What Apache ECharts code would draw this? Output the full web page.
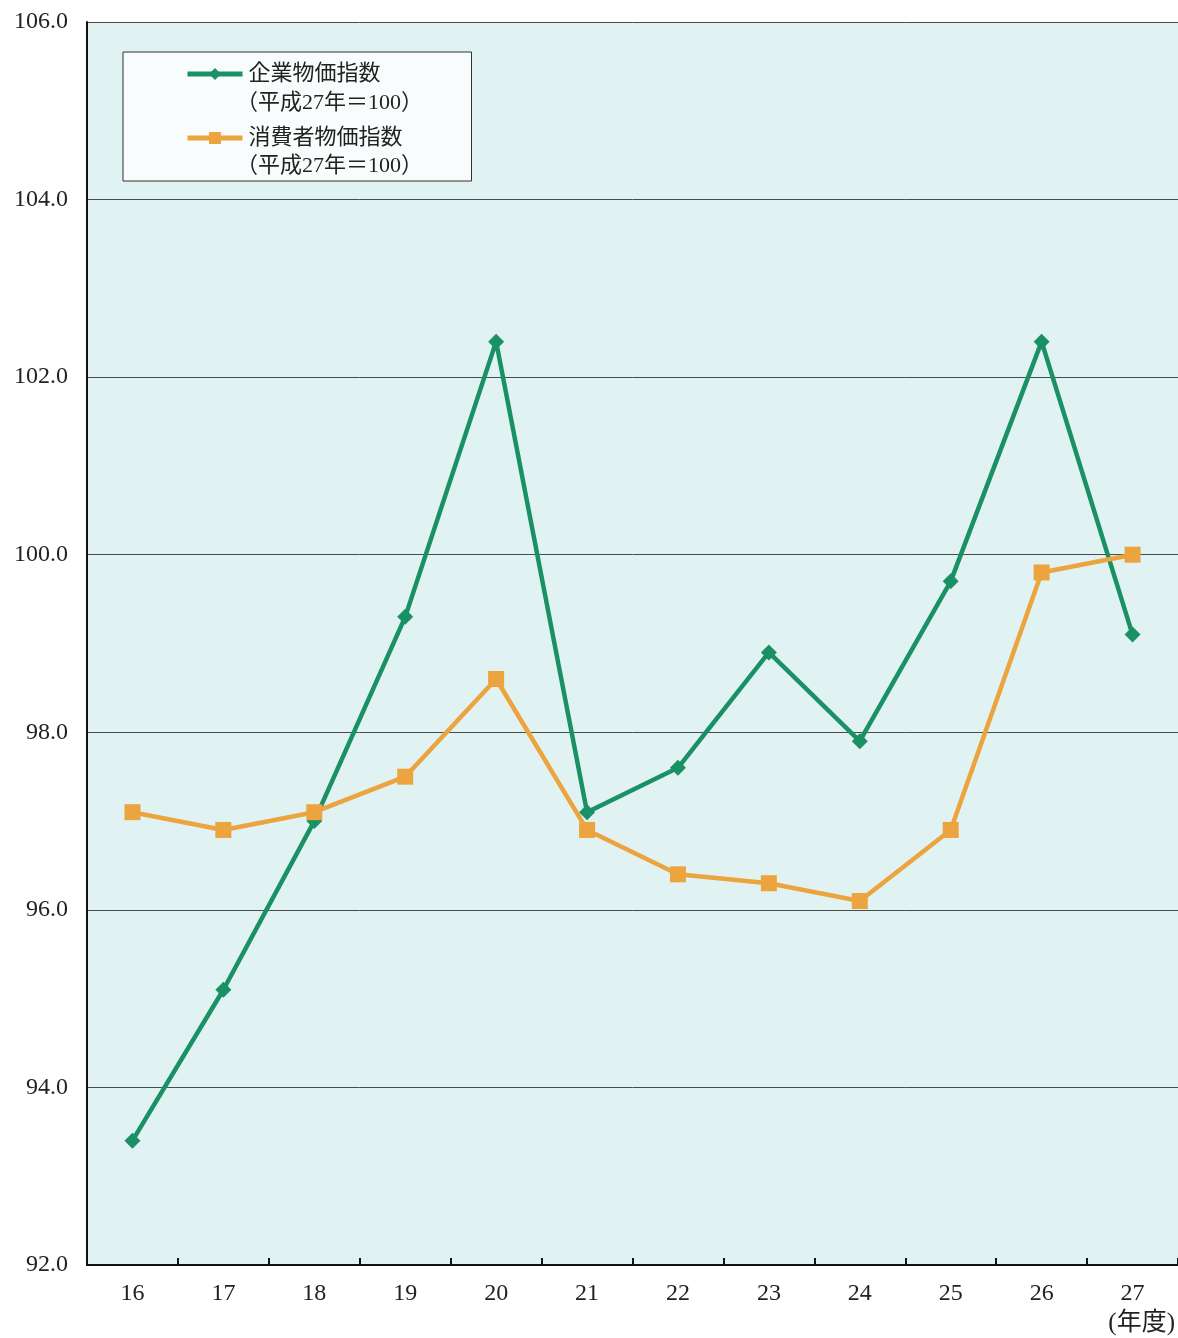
<!DOCTYPE html>
<html>
<head>
<meta charset="utf-8">
<script src="https://cdn.jsdelivr.net/npm/echarts@6/dist/echarts.min.js"></script>
<style>
  html, body { margin: 0; padding: 0; background: #ffffff; }
  #chart { width: 1178px; height: 1338px; }
</style>
</head>
<body>
<div id="chart"></div>
<script>
// 年度（平成）
const years = ['16', '17', '18', '19', '20', '21', '22', '23', '24', '25', '26', '27'];
// 企業物価指数（平成27年＝100）
const corporatePrice = [93.4, 95.1, 97.0, 99.3, 102.4, 97.1, 97.6, 98.9, 97.9, 99.7, 102.4, 99.1];
// 消費者物価指数（平成27年＝100）
const consumerPrice = [97.1, 96.9, 97.1, 97.5, 98.6, 96.9, 96.4, 96.3, 96.1, 96.9, 99.8, 100.0];
// 縦軸の範囲と目盛
const yMin = 92, yMax = 106, yStep = 2;

const serif = '"Liberation Serif", "DejaVu Serif", "Noto Sans CJK JP", serif';
const GREEN = '#1a9165';
const ORANGE = '#eca43f';

const chart = echarts.init(document.getElementById('chart'));
chart.setOption({
  animation: false,
  backgroundColor: '#ffffff',
  textStyle: { fontFamily: serif },
  grid: {
    left: 87, right: 0, top: 22, bottom: 73,
    show: true,
    backgroundColor: '#e0f2f1',
    borderWidth: 0
  },
  legend: {
    orient: 'vertical',
    left: 123, top: 52,
    padding: [11, 69, 32, 62],
    itemGap: 42,
    itemWidth: 55,
    itemHeight: 15,
    backgroundColor: '#f8fcfc',
    borderColor: '#333333',
    borderWidth: 1,
    lineStyle: { width: 5 },
    textStyle: { fontFamily: serif, fontSize: 22, color: '#222222', padding: [0, 0, 0, 1] },
    data: ['企業物価指数', '消費者物価指数']
  },
  graphic: [
    { type: 'text', left: 236, top: 92, z: 10,
      style: { text: '（平成27年＝100）', font: '22px ' + serif, fill: '#222222' } },
    { type: 'text', left: 236, top: 155, z: 10,
      style: { text: '（平成27年＝100）', font: '22px ' + serif, fill: '#222222' } },
    { type: 'text', right: 3, top: 1311, z: 10,
      style: { text: '(年度)', font: '25px ' + serif, fill: '#222222' } }
  ],
  xAxis: {
    type: 'category',
    data: years,
    boundaryGap: true,
    axisLine: { lineStyle: { color: '#111111', width: 2 } },
    axisTick: { show: true, inside: true, length: 7, lineStyle: { color: '#111111', width: 2 } },
    axisLabel: { margin: 17, fontSize: 24, color: '#222222', fontFamily: serif },
    splitLine: { show: false }
  },
  yAxis: {
    type: 'value',
    min: yMin, max: yMax, interval: yStep,
    axisLine: { show: true, lineStyle: { color: '#111111', width: 2 } },
    axisTick: { show: false },
    axisLabel: {
      margin: 19, fontSize: 24, color: '#222222', fontFamily: serif,
      formatter: v => v.toFixed(1)
    },
    splitLine: { show: true, lineStyle: { color: '#4a4a4a', width: 1 } }
  },
  series: [
    {
      name: '企業物価指数',
      type: 'line',
      data: corporatePrice,
      z: 3,
      symbol: 'diamond',
      symbolSize: 16,
      showAllSymbol: true,
      itemStyle: { color: GREEN },
      lineStyle: { color: GREEN, width: 4.5 }
    },
    {
      name: '消費者物価指数',
      type: 'line',
      data: consumerPrice,
      z: 4,
      symbol: 'rect',
      symbolSize: 16,
      showAllSymbol: true,
      itemStyle: { color: ORANGE },
      lineStyle: { color: ORANGE, width: 4.5 }
    }
  ]
});
</script>
</body>
</html>
